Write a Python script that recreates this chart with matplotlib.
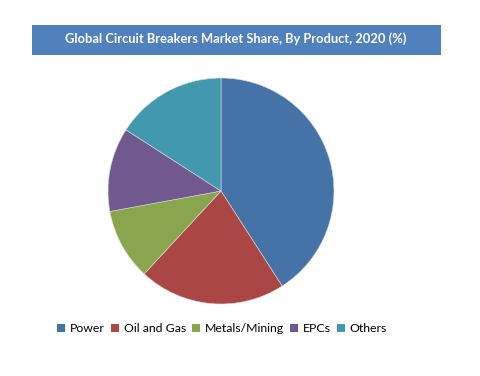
import numpy as np
import matplotlib
matplotlib.use("Agg")
import matplotlib.pyplot as plt
from matplotlib.patches import Rectangle, Patch

# data
products = ["Power", "Oil and Gas", "Metals/Mining", "EPCs", "Others"]
share = [40.9, 21.0, 10.2, 12.0, 15.9]
colors = ["#4572A7", "#AA4643", "#89A54E", "#71588F", "#4198AF"]

plt.rcParams['font.family'] = ['Lato', 'DejaVu Sans']

fig = plt.figure(figsize=(4.81, 3.76), dpi=100)
ax = fig.add_axes([0, 0, 1, 1])

# y axis is flipped (pixel coords), so angles run mirrored
ax.pie(share, colors=colors, startangle=-90, counterclock=True,
       center=(221, 191), radius=113, frame=True,
       wedgeprops=dict(edgecolor='#dddddd', linewidth=0.4))
ax.set_xlim(0, 481)
ax.set_ylim(376, 0)
ax.set_aspect('equal')
ax.axis('off')

# title banner
ax.add_patch(Rectangle((32, 25), 409, 30, facecolor="#4F81BD", edgecolor='none'))
ax.text(236, 39, "Global Circuit Breakers Market Share, By Product, 2020 (%)",
        color='white', fontsize=9.3, fontweight='bold', ha='center', va='center')

handles = [Patch(facecolor=c, edgecolor='none') for c in colors]
fig.legend(handles, products, loc='center', bbox_to_anchor=(222/481, 1 - 329/376),
           ncol=5, frameon=False, fontsize=8.8, handlelength=0.65, handleheight=0.65,
           handletextpad=0.4, columnspacing=0.5)

fig.savefig("out.png", dpi=100)
